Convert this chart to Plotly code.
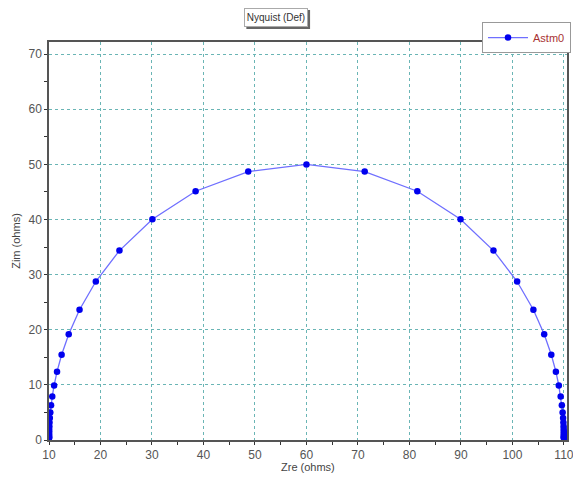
import plotly.graph_objects as go

# Nyquist data (Zre, Zim), ohms
zre = [10.001, 10.002, 10.003, 10.004, 10.006, 10.010, 10.016, 10.025, 10.040, 10.063,
       10.10, 10.16, 10.25, 10.40, 10.63, 10.99, 11.56, 12.45, 13.83, 15.93,
       19.09, 23.68, 30.08, 38.47, 48.69, 60.00, 71.31, 81.53, 89.92, 96.32,
       100.91, 104.07, 106.17, 107.55, 108.44, 109.01, 109.37, 109.60, 109.75, 109.84,
       109.90, 109.937, 109.960, 109.975, 109.984, 109.990, 109.994, 109.996, 109.997, 109.998,
       109.999]
zim = [0.32, 0.40, 0.50, 0.63, 0.79, 1.00, 1.26, 1.59, 2.00, 2.51,
       3.16, 3.98, 5.00, 6.29, 7.89, 9.90, 12.39, 15.46, 19.19, 23.63,
       28.75, 34.36, 40.06, 45.13, 48.70, 50.00, 48.70, 45.13, 40.06, 34.36,
       28.75, 23.63, 19.19, 15.46, 12.39, 9.90, 7.89, 6.29, 5.00, 3.98,
       3.16, 2.51, 2.00, 1.59, 1.26, 1.00, 0.79, 0.63, 0.50, 0.40,
       0.32]
series_name = "Astm0"
x_ticks = [10, 20, 30, 40, 50, 60, 70, 80, 90, 100, 110]
y_ticks = [0, 10, 20, 30, 40, 50, 60, 70]

fig = go.Figure()
fig.add_trace(go.Scatter(
    x=zre, y=zim, mode="lines+markers", name=series_name,
    line=dict(color="#6f6fff", width=1.3),
    marker=dict(color="#0000ee", size=6.5, symbol="circle"),
))

grid = dict(showgrid=True, gridcolor="#6ab5b5", griddash="dot", gridwidth=1)
common = dict(
    **grid,
    showline=True, linecolor="#555555", linewidth=1.5, mirror=True,
    ticks="outside", ticklen=3, tickcolor="#333333",
    minor=dict(dtick=5, ticks="outside", ticklen=3, tickcolor="#333333", showgrid=False),
    zeroline=False, automargin=False, ticklabeloverflow="allow",
    tickfont=dict(size=12, color="#555555"),
)
fig.update_xaxes(range=[10, 110.6], tickvals=x_ticks, **common)
fig.update_yaxes(
    range=[0, 72.2], tickvals=y_ticks,
    title=dict(text="Zim (ohms)", font=dict(size=11, color="#444444"), standoff=6),
    **common,
)

fig.update_layout(
    width=567, height=468,
    margin=dict(l=41, r=4, t=34, b=36),
    paper_bgcolor="white", plot_bgcolor="white",
    font=dict(family="Liberation Sans, Arial, sans-serif", color="#333333"),
    showlegend=True,
    legend=dict(
        x=1.0077, xanchor="right", y=1.050, yanchor="top",
        bgcolor="white", bordercolor="#999999", borderwidth=1,
        font=dict(size=11, color="#a83232"),
        tracegroupgap=0, itemwidth=40,
    ),
)

# x axis title
fig.add_annotation(
    text="Zre (ohms)", xref="paper", yref="paper",
    x=0.5, y=-0.069, xanchor="center", yanchor="middle", showarrow=False,
    font=dict(size=11, color="#444444"),
)

# title box with shadow
fig.add_shape(type="rect", xref="paper", yref="paper",
              x0=0.381, x1=0.504, y0=1.0327, y1=1.0804,
              line=dict(width=0), fillcolor="#666666")
fig.add_annotation(
    text="Nyquist (Def)", xref="paper", yref="paper",
    x=0.4387, y=1.0628, xanchor="center", yanchor="middle", showarrow=False,
    font=dict(size=10, color="#333333"),
    width=60, height=15,
    bgcolor="white", bordercolor="#aaaaaa", borderwidth=1, borderpad=1,
)

fig.write_html("out.html")
